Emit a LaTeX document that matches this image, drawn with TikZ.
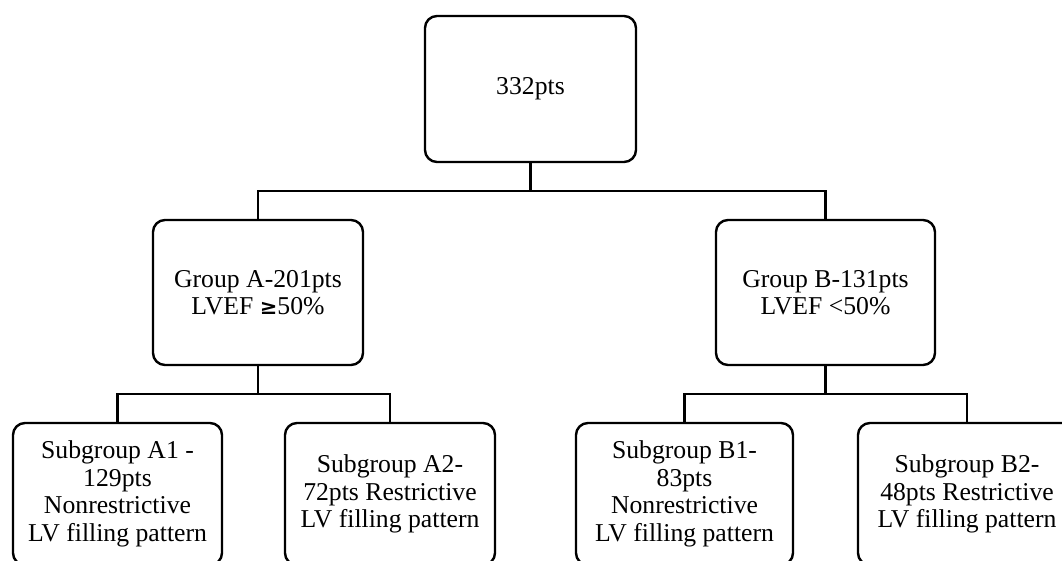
\documentclass[tikz,border=0pt]{standalone}
\usepackage{fontspec}
\setmainfont{Liberation Serif}
\newfontfamily\gefont{DejaVu Serif}
\usetikzlibrary{calc}
\tikzset{
  box/.style={draw=black, line width=2.4pt, rounded corners=12pt, align=center,
    inner sep=0pt, minimum height=145pt,
    font=\fontsize{25.7pt}{27.5pt}\selectfont},
  sub/.style={box, minimum height=142pt},
  conn/.style={draw=black, line width=2.4pt}
}
\begin{document}
\begin{tikzpicture}[x=1pt,y=1pt]
\useasboundingbox (0,0) rectangle (1062,560);
\clip (0,0) rectangle (1062,560);
\node[box, minimum width=211pt, minimum height=146pt] (top) at (530.5,471) {332pts};
\node[box, minimum width=210pt] (A) at (258,267.5) {Group A-201pts\\LVEF {\gefont\bfseries\fontsize{21pt}{27.5pt}\selectfont ≥}50\%};
\node[box, minimum width=219pt] (B) at (825.5,267.5) {Group B-131pts\\LVEF <50\%};
\node[sub, minimum width=209pt] (A1) at (117.5,66) {Subgroup A1 -\\129pts\\Nonrestrictive\\LV filling pattern};
\node[sub, minimum width=210pt] (A2) at (390,66) {Subgroup A2-\\72pts Restrictive\\LV filling pattern};
\node[sub, minimum width=217pt] (B1) at (684.5,66) {Subgroup B1-\\83pts\\Nonrestrictive\\LV filling pattern};
\node[sub, minimum width=218pt] (B2) at (967,66) {Subgroup B2-\\48pts Restrictive\\LV filling pattern};
\coordinate (j0) at ($(top.south)+(0,-28)$);
\coordinate (jA) at ($(A.south)+(0,-28)$);
\coordinate (jB) at ($(B.south)+(0,-28)$);
\draw[conn] (top.south) -- (j0);
\draw[conn] (A.north) |- (j0) -| (B.north);
\draw[conn] (A.south) -- (jA);
\draw[conn] (A1.north) |- (jA) -| (A2.north);
\draw[conn] (B.south) -- (jB);
\draw[conn] (B1.north) |- (jB) -| (B2.north);
\end{tikzpicture}
\end{document}
